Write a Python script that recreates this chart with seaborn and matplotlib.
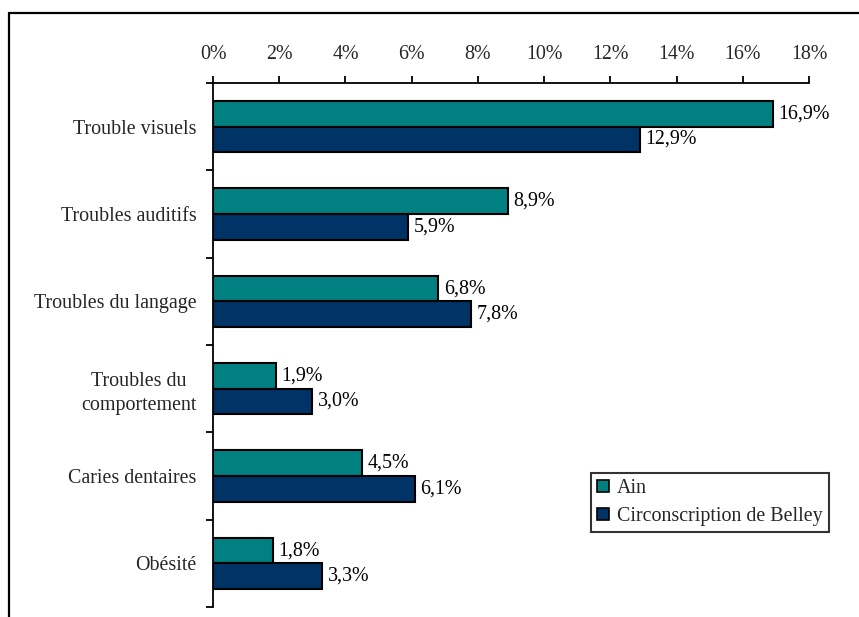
import matplotlib
matplotlib.use("Agg")
import matplotlib.pyplot as plt
from matplotlib.lines import Line2D
import seaborn as sns
import pandas as pd

categories = [
    "Trouble visuels",
    "Troubles auditifs",
    "Troubles du langage",
    "Troubles du\ncomportement",
    "Caries dentaires",
    "Obésité",
]
series_names = ["Ain", "Circonscription de Belley"]
ain_values = [16.9, 8.9, 6.8, 1.9, 4.5, 1.8]
belley_values = [12.9, 5.9, 7.8, 3.0, 6.1, 3.3]
x_ticks = [0, 2, 4, 6, 8, 10, 12, 14, 16, 18]

colors = {"Ain": "#008080", "Circonscription de Belley": "#003366"}

df = pd.DataFrame({
    "categorie": categories * 2,
    "serie": [series_names[0]] * len(categories) + [series_names[1]] * len(categories),
    "valeur": ain_values + belley_values,
})

FS = 14.4

sns.set_theme(style="white")
plt.rcParams["font.family"] = ["Liberation Serif", "DejaVu Serif"]
plt.rcParams["font.size"] = FS

fig = plt.figure(figsize=(8.59, 6.17), dpi=100)
ax = fig.add_axes([0.248, 0.0162, 0.6938, 0.8493])

sns.barplot(
    data=df, y="categorie", x="valeur", hue="serie",
    order=categories, hue_order=series_names, palette=colors,
    orient="h", width=0.585, edgecolor="black", linewidth=1.5,
    saturation=1, ax=ax, errorbar=None,
)

# value labels next to each bar
for container, vals in zip(ax.containers, [ain_values, belley_values]):
    ax.bar_label(container, labels=[f"{v:.1f}%".replace(".", ",") for v in vals],
                 padding=4, fontsize=FS, color="black")

ax.set_xlim(0, 18)
ax.set_ylim(len(categories) - 0.5, -0.5)
ax.set_xticks(x_ticks)
ax.set_xticklabels([f"{t}%" for t in x_ticks])
ax.xaxis.tick_top()
ax.tick_params(axis="x", which="major", direction="out", length=5, width=1.3,
               color="black", pad=9, labelsize=FS, top=True, bottom=False)

# category labels without marks, separators as minor ticks between groups
ax.set_yticks(range(len(categories)))
ax.set_yticklabels(categories, multialignment="center", linespacing=1.35)
ax.set_yticks([i - 0.5 for i in range(len(categories) + 1)], minor=True)
ax.tick_params(axis="y", which="major", length=0, pad=12, labelsize=FS)
ax.tick_params(axis="y", which="minor", direction="out", length=5, width=1.3,
               color="black", left=True)

ax.set_xlabel("")
ax.set_ylabel("")
for side in ["right", "bottom"]:
    ax.spines[side].set_visible(False)
for side in ["top", "left"]:
    ax.spines[side].set_color("black")
    ax.spines[side].set_linewidth(1.3)

leg = ax.legend(
    loc="upper left", bbox_to_anchor=(591 / 859, 1 - 473 / 617),
    bbox_transform=fig.transFigure, frameon=True, fancybox=False,
    edgecolor="black", fontsize=FS, handlelength=0.6, handleheight=0.6,
    handletextpad=0.4, borderpad=0.3, labelspacing=0.45, borderaxespad=0,
    title=None,
)
leg.get_frame().set_linewidth(1.5)
for h in leg.legend_handles:
    h.set_edgecolor("black")
    h.set_linewidth(1.2)

# outer frame (top and left)
fig.add_artist(Line2D([9 / 859, 1], [1 - 13 / 617, 1 - 13 / 617],
                      transform=fig.transFigure, color="black", linewidth=1.6))
fig.add_artist(Line2D([9 / 859, 9 / 859], [0, 1 - 13 / 617],
                      transform=fig.transFigure, color="black", linewidth=1.6))

fig.savefig("out.png", dpi=100, facecolor="white")
